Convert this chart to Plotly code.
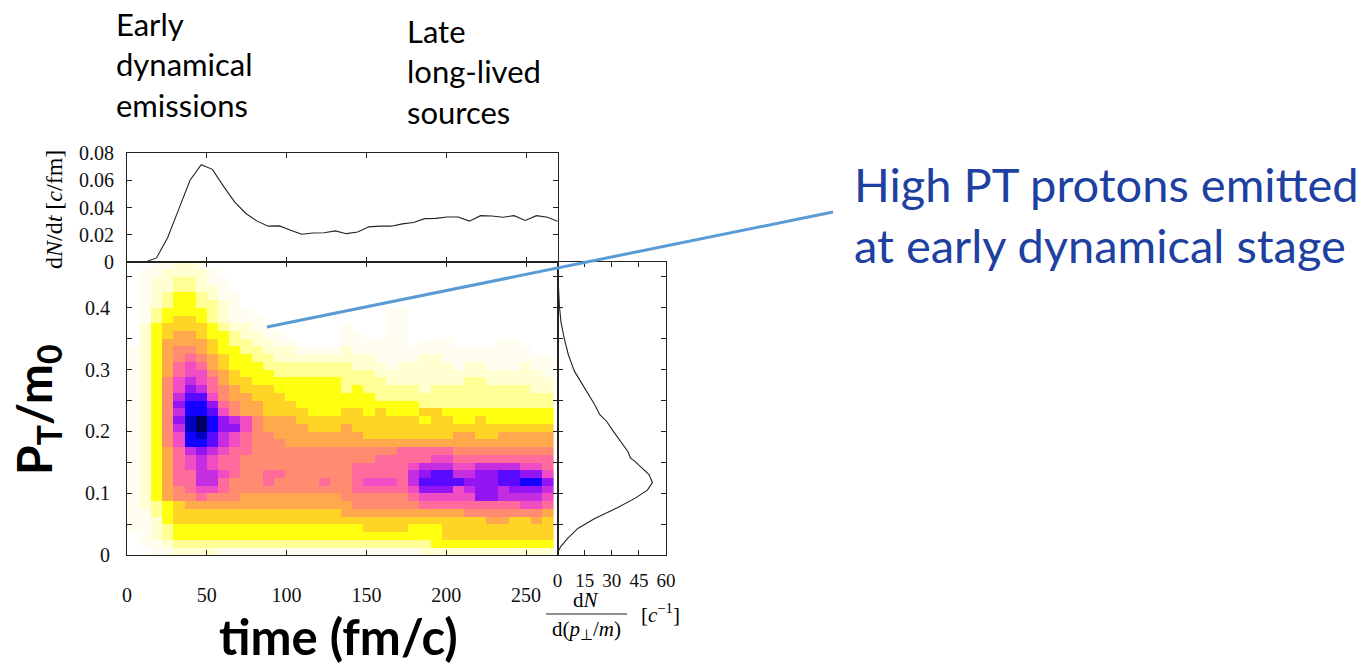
import plotly.graph_objects as go

W, H = 1368, 669

# ---------------- data ----------------
time_centers = [4.5, 11.5, 18.5, 25.5, 32.5, 39.5, 46.5, 53.5, 60.5, 67.5, 74.5, 81.5,
                88.5, 95.5, 102.5, 109.5, 116.5, 123.5, 130.5, 137.5, 144.5, 151.5, 158.5,
                165.5, 172.5, 179.5, 186.5, 193.5, 200.5, 207.5, 214.5, 221.5, 228.5, 235.5,
                242.5, 249.5, 256.5, 263.5]

pt_centers_top_down = [0.46875, 0.45625, 0.44375, 0.43125, 0.41875, 0.40625, 0.39375, 0.38125,
                       0.36875, 0.35625, 0.34375, 0.33125, 0.31875, 0.30625, 0.29375, 0.28125,
                       0.26875, 0.25625, 0.24375, 0.23125, 0.21875, 0.20625, 0.19375, 0.18125,
                       0.16875, 0.15625, 0.14375, 0.13125, 0.11875, 0.10625, 0.09375, 0.08125,
                       0.06875, 0.05625, 0.04375, 0.03125, 0.01875, 0.00625]

# density level per cell (hex digit 0..f), rows from top (high pT) to bottom
# early half: first 19 time bins ; late half: last 19 time bins
density_early = [
    "0011221000000000000", "0112222100000000000", "0122332110000000000",
    "0122332210000000000", "0123443211000000000", "0123443321000000000",
    "0134444321100000000", "0134554321110000000", "0245555432211000000",
    "0245665443221100000", "0246666543322110000", "1246776544332221111",
    "1246787654433222222", "1246898654443333333", "1246899765444333333",
    "12479a9865544444444", "12479ba876555444444", "1247acc976655544444",
    "1247bddb87665554444", "1247addc97665555444", "1247befdba976665555",
    "1247aefdbb976666555", "12479deca9877666666", "12479ddca9877766666",
    "12468aba98877777777", "124689a988777777777", "124689a988777777777",
    "124688aa98778877777", "124688aa87778777787", "1246789987777777777",
    "1246778777666666666", "1234566666666666666", "1134555555555555555",
    "1124555555555555555", "1123444444444444444", "0123444444444444444",
    "0112333333333333333", "0011222211111111111",
]
density_late = [
    "0000000000000000000", "0000000000000000000", "0000000000000000000",
    "0000000000000000000", "0000000000000000000", "0000000000000000000",
    "0000110000000000000", "0000110000000000000", "1000110000000000000",
    "1100110000000000000", "1111110111000011000", "2111111111111111100",
    "2221111221111111111", "3222122222122111211", "3332222222222222221",
    "3333222222233222222", "3433333233333333322", "4443333333333333333",
    "4444444333333333333", "5545444554444444444", "5555555455445444444",
    "6555555555555555555", "6655555555665566666", "6666666666666666666",
    "7777788888777777777", "7778888899888888888", "7888889aaa99aaaa998",
    "788888abccaabbccbb9", "789998accccbbbccddb", "7888889bbb9abbabbba",
    "777777899999bbaaaa9", "6777777888888888998", "6666666666677777776",
    "5555555555555665565", "4455554445555555555", "4444444445555555555",
    "3333333344444444444", "1111111222222222222",
]

dndt_times = [4.5, 11.5, 18.5, 25.5, 32.5, 39.5, 46.5, 53.5, 60.5, 67.5, 74.5, 81.5,
              88.5, 95.5, 102.5, 109.5, 116.5, 123.5, 130.5, 137.5, 144.5, 151.5, 158.5,
              165.5, 172.5, 179.5, 186.5, 193.5, 200.5, 207.5, 214.5, 221.5, 228.5, 235.5,
              242.5, 249.5, 256.5, 263.5, 270.5]
dndt_values = [0, 0, 0.003, 0.018, 0.039, 0.060, 0.0714, 0.068, 0.0555, 0.044, 0.0356, 0.030,
               0.0263, 0.0265, 0.0233, 0.0204, 0.0213, 0.0215, 0.0228, 0.0208, 0.022, 0.0258,
               0.0263, 0.0263, 0.028, 0.029, 0.0318, 0.032, 0.033, 0.033, 0.030, 0.034, 0.0338,
               0.0328, 0.034, 0.0305, 0.034, 0.0328, 0.0295]

pt_profile = [0.474, 0.469, 0.405, 0.377, 0.35, 0.324, 0.297, 0.27, 0.243, 0.227, 0.216, 0.2,
              0.184, 0.167, 0.157, 0.151, 0.14, 0.13, 0.117, 0.105, 0.092, 0.076, 0.059,
              0.043, 0.027, 0.014, 0.006]
dn_dpt_values = [0, 0, 1.0, 1.9, 3.75, 6.0, 9.4, 15.0, 20.6, 23.4, 27.2, 30.9, 34.7, 39.0,
                 40.3, 43.0, 46.9, 50.6, 52.5, 49.7, 43.0, 32.8, 20.6, 11.25, 5.6, 1.9, 0.4]

x_ticks = [0, 50, 100, 150, 200, 250]
pt_ticks = [0, 0.05, 0.1, 0.15, 0.2, 0.25, 0.3, 0.35, 0.4, 0.45]
pt_ticktext = ["0", "", "0.1", "", "0.2", "", "0.3", "", "0.4", ""]
dndt_ticks = [0, 0.02, 0.04, 0.06, 0.08]
dndt_ticktext = ["0", "0.02", "0.04", "0.06", "0.08"]
side_ticks = [0, 15, 30, 45, 60]

level_colors = ["#ffffff", "#fffdf0", "#ffffd2", "#ffff96", "#ffff10", "#ffd426", "#ffa84c",
                "#ff8c70", "#ff6c9c", "#f04cc4", "#c42ee0", "#9414f4", "#5a0aff", "#1400ff",
                "#0000c0", "#000060"]

# ---------------- build ----------------
for a, b in zip(density_early, density_late):
    assert len(a) == 19 and len(b) == 19, (a, b)
z = [[int(c, 16) for c in (a + b)] for a, b in zip(density_early, density_late)]
nlev = len(level_colors) - 1
colorscale = [[i / nlev, c] for i, c in enumerate(level_colors)]

SERIF = "Liberation Serif"
px = lambda v: v / W
py = lambda v: 1 - v / H

fig = go.Figure()
fig.add_trace(go.Heatmap(x=time_centers, y=pt_centers_top_down, z=z, colorscale=colorscale,
                         zmin=0, zmax=nlev, showscale=False, xaxis="x", yaxis="y",
                         hoverinfo="skip"))
fig.add_trace(go.Scatter(x=dndt_times, y=dndt_values, mode="lines",
                         line=dict(color="#222222", width=1.1), xaxis="x2", yaxis="y2",
                         showlegend=False))
fig.add_trace(go.Scatter(x=dn_dpt_values, y=pt_profile, mode="lines",
                         line=dict(color="#222222", width=1.1), xaxis="x3", yaxis="y3",
                         showlegend=False))

common = dict(showline=True, linecolor="#222222", linewidth=1, mirror="ticks",
              ticks="inside", ticklen=5, tickcolor="#222222", showgrid=False,
              zeroline=False, automargin=False,
              tickfont=dict(family=SERIF, size=20, color="#111111"))

xL, xM, xR = px(127), px(557.5), px(666)
yB, yM, yT = py(555), py(262), py(153)

fig.update_layout(
    width=W, height=H, margin=dict(l=0, r=0, t=0, b=0, pad=0, autoexpand=False),
    paper_bgcolor="white", plot_bgcolor="white", showlegend=False,
    xaxis=dict(domain=[xL, xM], range=[0, 269.7], tickvals=x_ticks, anchor="y",
               ticklabelstandoff=22, **common),
    yaxis=dict(domain=[yB, yM], range=[0, 0.474], tickvals=pt_ticks, ticktext=pt_ticktext,
               anchor="x", ticklabelstandoff=12, **common),
    xaxis2=dict(domain=[xL, xM], range=[0, 269.7], tickvals=x_ticks, anchor="y2",
                showticklabels=False, **common),
    yaxis2=dict(domain=[yM, yT], range=[0, 0.08], tickvals=dndt_ticks, ticktext=dndt_ticktext,
                anchor="x2", ticklabelstandoff=8, **common),
    xaxis3=dict(domain=[xM, xR], range=[0, 60], tickvals=side_ticks, anchor="y3",
                ticklabelstandoff=8, **common),
    yaxis3=dict(domain=[yB, yM], range=[0, 0.474], tickvals=pt_ticks, anchor="x3",
                showticklabels=False, **common),
)
fig.update_layout(xaxis3_tickfont=dict(family=SERIF, size=19, color="#111111"))

ann = []
def txt(x, y, text, size, color="#000000", family="Lato", xanchor="left", yanchor="middle",
        angle=0, align="left"):
    ann.append(dict(x=px(x), y=py(y), xref="paper", yref="paper", text=text, showarrow=False,
                    xanchor=xanchor, yanchor=yanchor, textangle=angle, align=align,
                    font=dict(family=family, size=size, color=color)))

txt(114, 64, "Early<br>dynamical<br>emissions", 31)
txt(405, 72, "Late<br>long-lived<br>sources", 31)
txt(852, 215, "High PT protons emitted<br>at early dynamical stage", 47, color="#1e40a0")
txt(338, 636, "<b>time (fm/c)</b>", 49, xanchor="center")
txt(37, 410, "<b>P<sub>T</sub>/m<sub>0</sub></b>", 48, xanchor="center", angle=-90)
txt(54, 210, "d<i>N</i>/d<i>t</i> [<i>c</i>/fm]", 24, family=SERIF, xanchor="center",
    angle=-90)
txt(586, 600, "d<i>N</i>", 21, family=SERIF, xanchor="center")
txt(586, 630, "d(<i>p</i><sub>⊥</sub>/<i>m</i>)", 21, family=SERIF, xanchor="center")
txt(660, 613, "[<i>c</i><sup>−1</sup>]", 21, family=SERIF, xanchor="center")
fig.update_layout(annotations=ann)

fig.add_shape(type="line", xref="paper", yref="paper", x0=px(546), x1=px(627),
              y0=py(614), y1=py(614), line=dict(color="#222222", width=1))
fig.add_shape(type="line", xref="paper", yref="paper", x0=px(267), y0=py(327),
              x1=px(833), y1=py(212), line=dict(color="#5b9bd5", width=3))

fig.write_html("out.html")
